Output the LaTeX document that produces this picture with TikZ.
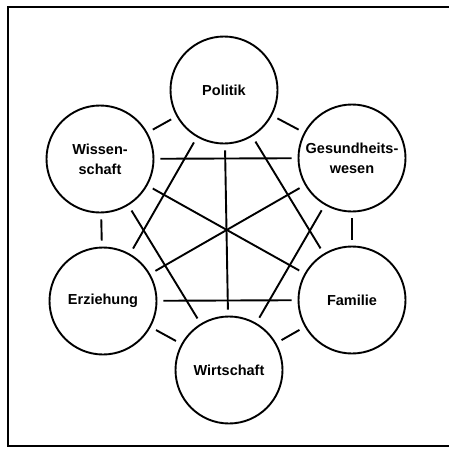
\documentclass[tikz,border=0pt]{standalone}
\usepackage{fontspec}
\setmainfont{Liberation Sans}
\usetikzlibrary{positioning}

\begin{document}
\begin{tikzpicture}[x=1pt, y=-1pt, line width=1.9pt, on grid,
    bereich/.style={circle, draw, minimum size=107pt, align=center,
        font=\fontsize{14.5}{20}\selectfont\bfseries},
    kante/.style={shorten >=6pt, shorten <=6pt}]
    \useasboundingbox (0,0) rectangle (448,450);
    % Rahmen, rechte Kante liegt ausserhalb
    \draw[line width=1.4pt] (455,7) -- (8,7) -- (8,446) -- (455,446);

    \node[bereich] (P) at (224,90) {Politik};
    \node[bereich] (G) [below right=68pt and 128pt of P] {Gesundheits-\\wesen};
    \node[bereich] (F) [below=142pt of G] {Familie};
    \node[bereich] (W) [below=280pt of P, xshift=5pt] {Wirtschaft};
    \node[bereich] (E) [above left=69pt and 126pt of W] {Erziehung};
    \node[bereich] (S) [above=142pt of E, xshift=-3pt] {Wissen-\\schaft};

    % Nachbarn
    \draw[kante] (P) -- (G);
    \draw[kante] (G) -- (F);
    \draw[kante] (F) -- (W);
    \draw[kante] (W) -- (E);
    \draw[kante] (E) -- (S);
    \draw[kante] (S) -- (P);
    % quer
    \draw[kante] (P) -- (W);
    \draw[kante] (P) -- (E);
    \draw[kante] (P) -- (F);
    \draw[kante] (S) -- (G);
    \draw[kante] (S) -- (F);
    \draw[kante] (S) -- (W);
    \draw[kante] (G) -- (E);
    \draw[kante] (G) -- (W);
    \draw[kante] (E) -- (F);
\end{tikzpicture}
\end{document}
